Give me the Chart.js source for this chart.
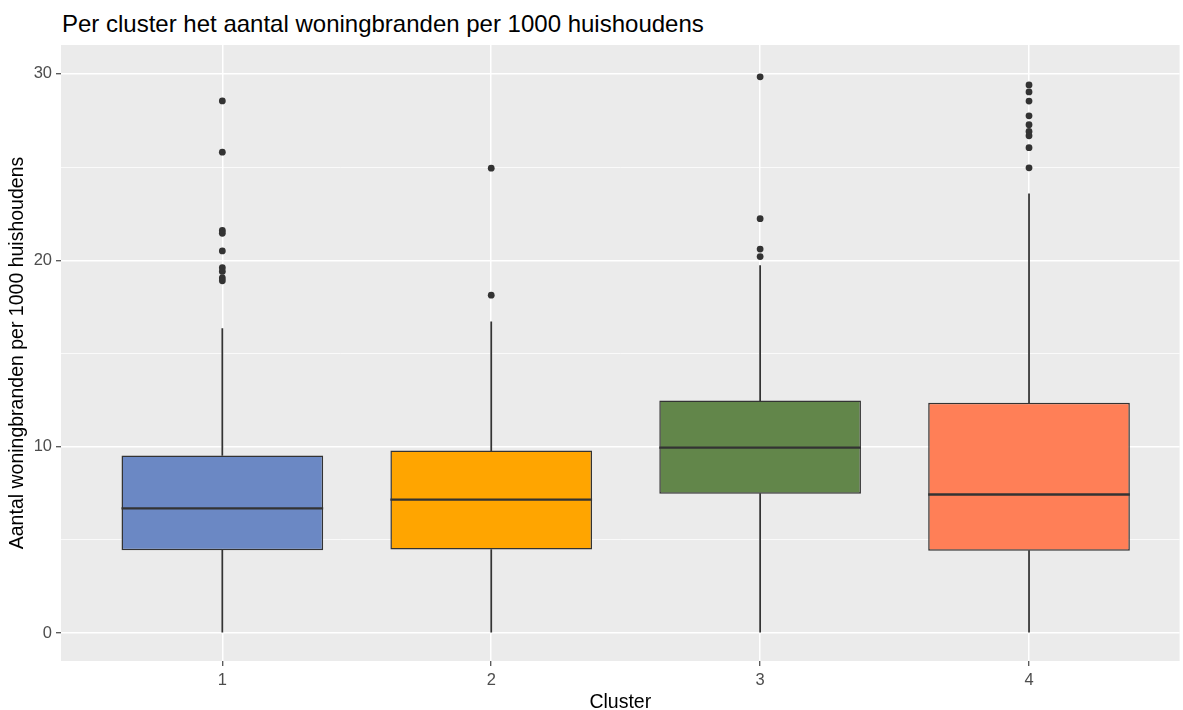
<!DOCTYPE html>
<html lang="nl">
<head>
  <meta charset="UTF-8" />
  <title>Woningbranden per cluster</title>
  <script src="https://cdn.jsdelivr.net/npm/chart.js"></script>
  <style>
    html, body { margin: 0; padding: 0; background: #fff; }
    .wrap { position: relative; width: 1183px; height: 710px; }
    h1 {
      position: absolute; left: 62px; top: 12px; margin: 0;
      font: 400 24px/1 "Liberation Sans", Arial, sans-serif;
      color: #000; white-space: nowrap;
    }
    canvas { position: absolute; left: 0; top: 0; }
  </style>
</head>
<body>
<div class="wrap">
  <h1>Per cluster het aantal woningbranden per 1000 huishoudens</h1>
  <canvas id="boxChart" width="1183" height="710"></canvas>
</div>

<script>
  // waarden
  const clusters = [1, 2, 3, 4];
  const q1 = [4.44, 4.48, 7.48, 4.42];
  const median = [6.69, 7.16, 9.95, 7.43];
  const q3 = [9.53, 9.79, 12.47, 12.36];
  const whiskerLow = [0, 0, 0, 0];
  const whiskerHigh = [16.33, 16.7, 19.72, 23.57];
  const outliers = [
    [28.55, 25.8, 21.6, 21.45, 20.5, 19.6, 19.4, 19.05, 18.9],
    [24.94, 18.13],
    [29.84, 22.23, 20.6, 20.2],
    [29.41, 29.03, 28.54, 27.75, 27.27, 26.91, 26.68, 26.04, 24.96]
  ];
  const yTicks = [0, 5, 10, 15, 20, 25, 30];
  const boxColors = ["#6B88C4", "#FFA500", "#62864A", "#FF7F57"];

  const FONT = '"Liberation Sans", Arial, sans-serif';
  Chart.defaults.font.family = FONT;

  // grijze achtergrond van het panel (ggplot-stijl)
  const panelBackground = {
    id: "panelBackground",
    beforeDraw(chart) {
      const { ctx, chartArea: a } = chart;
      ctx.save();
      ctx.fillStyle = "#EBEBEB";
      ctx.fillRect(a.left, a.top, a.right - a.left, a.bottom - a.top);
      ctx.restore();
    }
  };

  // mediaan als dikke lijn over de breedte van elke box
  const medianLines = {
    id: "medianLines",
    afterDatasetsDraw(chart) {
      const meta = chart.getDatasetMeta(0);
      const yScale = chart.scales.y;
      const ctx = chart.ctx;
      ctx.save();
      ctx.strokeStyle = "#333333";
      ctx.lineWidth = 2.4;
      meta.data.forEach((bar, i) => {
        const py = yScale.getPixelForValue(median[i]);
        ctx.beginPath();
        ctx.moveTo(bar.x - bar.width / 2, py);
        ctx.lineTo(bar.x + bar.width / 2, py);
        ctx.stroke();
      });
      ctx.restore();
    }
  };

  const outlierPoints = [];
  outliers.forEach((list, i) => list.forEach(v => outlierPoints.push({ x: clusters[i], y: v })));

  const ctx = document.getElementById("boxChart").getContext("2d");

  new Chart(ctx, {
    type: "bar",
    data: {
      datasets: [
        {
          label: "box",
          data: clusters.map((c, i) => ({ x: c, y: [q1[i], q3[i]] })),
          backgroundColor: boxColors,
          borderColor: "#333333",
          borderWidth: 1.5,
          borderSkipped: false,
          grouped: false,
          categoryPercentage: 1,
          barPercentage: 0.75
        },
        {
          label: "whisker boven",
          data: clusters.map((c, i) => ({ x: c, y: [q3[i], whiskerHigh[i]] })),
          backgroundColor: "#333333",
          borderWidth: 0,
          grouped: false,
          barThickness: 1.1
        },
        {
          label: "whisker onder",
          data: clusters.map((c, i) => ({ x: c, y: [whiskerLow[i], q1[i]] })),
          backgroundColor: "#333333",
          borderWidth: 0,
          grouped: false,
          barThickness: 1.1
        },
        {
          type: "scatter",
          label: "uitschieters",
          data: outlierPoints,
          backgroundColor: "#333333",
          borderWidth: 0,
          pointRadius: 3.4,
          pointHoverRadius: 3.4
        }
      ]
    },
    options: {
      responsive: false,
      animation: false,
      events: [],
      layout: { padding: { top: 45, right: 0, bottom: 0, left: 0 } },
      plugins: {
        legend: { display: false },
        tooltip: { enabled: false },
        title: { display: false }
      },
      scales: {
        x: {
          type: "linear",
          min: 0.4,
          max: 4.56,
          offset: false,
          afterBuildTicks: s => { s.ticks = clusters.map(v => ({ value: v })); },
          afterFit: s => { s.height = 49; },
          grid: {
            offset: false,
            color: "#FFFFFF",
            lineWidth: 1.5,
            drawTicks: true,
            tickLength: 5,
            tickColor: "#333333",
            tickWidth: 1.1
          },
          border: { display: false },
          ticks: {
            color: "#4D4D4D",
            font: { size: 16.5 },
            padding: 5,
            maxRotation: 0,
            autoSkip: false,
            callback: v => String(v)
          },
          title: {
            display: true,
            text: "Cluster",
            color: "#000000",
            font: { size: 19.5, lineHeight: 1 },
            padding: { top: 0, bottom: -2 }
          }
        },
        y: {
          min: -1.5,
          max: 31.55,
          afterBuildTicks: s => { s.ticks = yTicks.map(v => ({ value: v })); },
          afterFit: s => { s.width = 61; },
          grid: {
            color: "#FFFFFF",
            lineWidth: c => (c.tick && c.tick.value % 10 === 0 ? 1.5 : 0.75),
            drawTicks: true,
            tickLength: 5,
            tickColor: c => (c.tick && c.tick.value % 10 === 0 ? "#333333" : "rgba(0,0,0,0)"),
            tickWidth: 1.1
          },
          border: { display: false },
          ticks: {
            color: "#4D4D4D",
            font: { size: 16.5 },
            padding: 4,
            autoSkip: false,
            callback: v => (v % 10 === 0 ? String(v) : "")
          },
          title: {
            display: true,
            text: "Aantal woningbranden per 1000 huishoudens",
            color: "#000000",
            font: { size: 19.5, lineHeight: 1 },
            padding: { top: 8, bottom: 0 }
          }
        }
      }
    },
    plugins: [panelBackground, medianLines]
  });
</script>
</body>
</html>
